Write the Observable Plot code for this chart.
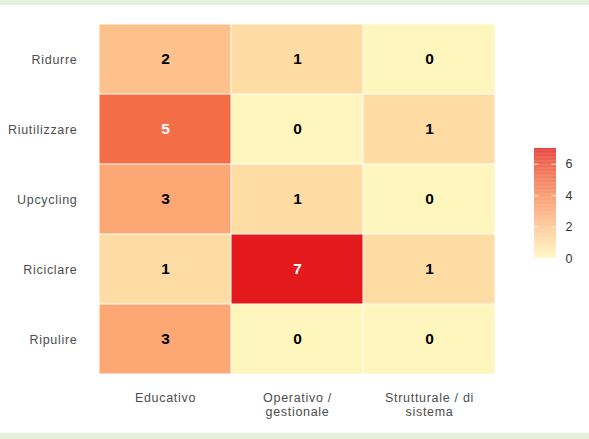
<!DOCTYPE html>
<html>
<head>
<meta charset="utf-8">
<script src="https://cdn.jsdelivr.net/npm/d3@7"></script>
<script src="https://cdn.jsdelivr.net/npm/@observablehq/plot@0.6"></script>
<style>
  html, body { margin: 0; padding: 0; background: #ffffff; }
  #page { position: relative; width: 589px; height: 439px; overflow: hidden; background: #ffffff; font-family: "Liberation Sans", Arial, sans-serif; }
  .band { position: absolute; left: 0; width: 589px; background: #e3f0da; }
  #chart { position: absolute; left: 0; top: 5px; }
  #legend { position: absolute; left: 524px; top: 138px; }
  #chart g[aria-label="x-axis tick label"] text,
  #chart g[aria-label="y-axis tick label"] text { letter-spacing: 0.7px; }
</style>
</head>
<body>
<div id="page">
  <div class="band" style="top:0;height:5px"></div>
  <div class="band" style="top:433px;height:6px"></div>
  <div id="chart"></div>
  <div id="legend"></div>
</div>
<script>
const strategie = ["Ridurre", "Riutilizzare", "Upcycling", "Riciclare", "Ripulire"];
const livelli = ["Educativo", "Operativo /\ngestionale", "Strutturale / di\nsistema"];
const valEducativo = [2, 5, 3, 1, 3];
const valOperativo = [1, 0, 1, 7, 0];
const valStrutturale = [0, 1, 0, 1, 0];
const legendTicks = [0, 2, 4, 6];
const colorLow = "#FFF6BD";
const colorHigh = "#E31A1C";

const series = [valEducativo, valOperativo, valStrutturale];
const data = [];
strategie.forEach((s, i) => {
  livelli.forEach((l, j) => {
    data.push({strategia: s, livello: l, n: series[j][i]});
  });
});

const colorScale = {type: "linear", domain: [0, 7], range: [colorLow, colorHigh], interpolate: "lab"};

const chart = Plot.plot({
  width: 589,
  height: 428,
  marginTop: 17,
  marginBottom: 57,
  marginLeft: 99,
  marginRight: 94,
  style: {fontFamily: "'Liberation Sans', Arial, sans-serif", background: "transparent"},
  x: {domain: livelli, padding: 0, label: null},
  y: {domain: strategie, padding: 0, label: null},
  color: colorScale,
  marks: [
    Plot.cell(data, {x: "livello", y: "strategia", fill: "n", inset: 0.5}),
    Plot.text(data, {x: "livello", y: "strategia", text: d => String(d.n), fontSize: 15.5, fontWeight: "bold",
      fill: d => d.n >= 5 ? "white" : "black"}),
    Plot.axisX({tickSize: 0, tickPadding: 16, fontSize: 12.5, lineHeight: 1.12, fill: "#4d4d4d", label: null}),
    Plot.axisY({tickSize: 0, tickPadding: 22, fontSize: 12.5, fill: "#4d4d4d", label: null})
  ]
});
document.getElementById("chart").appendChild(chart);

const stops = d3.range(0, 7, 0.05);
const legend = Plot.plot({
  width: 60,
  height: 135,
  marginTop: 10,
  marginBottom: 15,
  marginLeft: 10,
  marginRight: 28,
  style: {fontFamily: "'Liberation Sans', Arial, sans-serif", background: "transparent"},
  x: {domain: [0, 1], axis: null},
  y: {domain: [0, 7], label: null},
  color: colorScale,
  marks: [
    Plot.rect(stops, {x1: 0, x2: 1, y1: d => d, y2: d => d + 0.051, fill: d => d + 0.025}),
    Plot.ruleY(legendTicks.slice(1), {x1: 0, x2: 0.2, stroke: "white", strokeOpacity: 0.8}),
    Plot.ruleY(legendTicks.slice(1), {x1: 0.8, x2: 1, stroke: "white", strokeOpacity: 0.8}),
    Plot.axisY({anchor: "right", ticks: legendTicks, tickFormat: d3.format("d"), tickSize: 0, tickPadding: 9, fontSize: 12.5, fill: "#333", label: null})
  ]
});
document.getElementById("legend").appendChild(legend);
</script>
</body>
</html>
